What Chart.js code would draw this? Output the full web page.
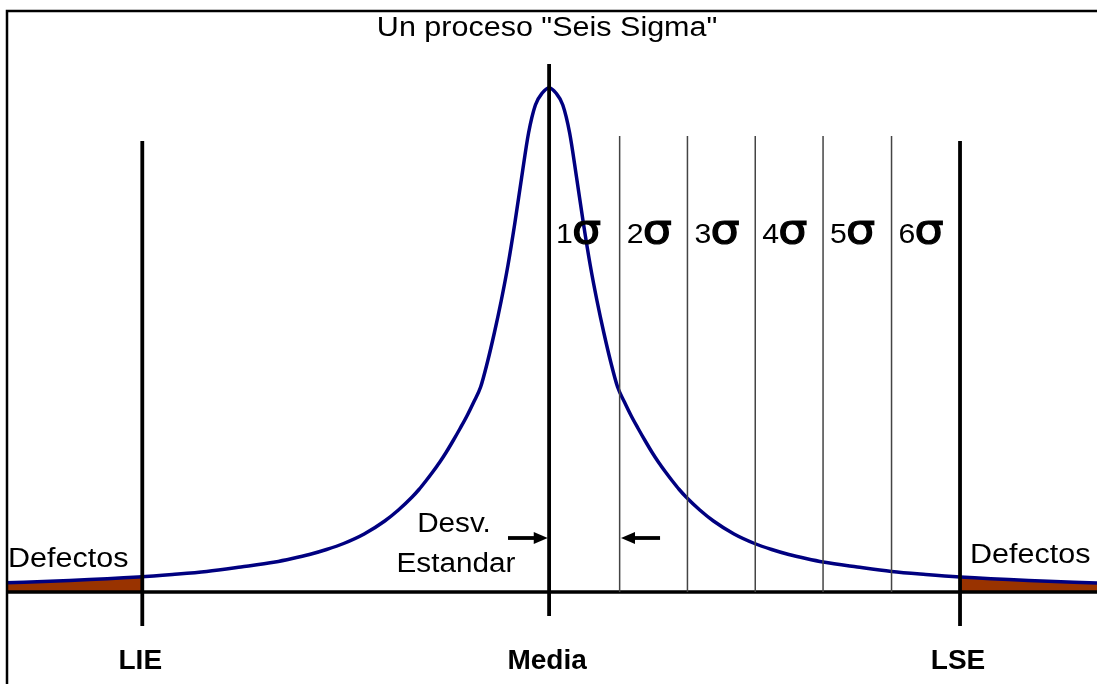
<!DOCTYPE html>
<html>
<head>
<meta charset="utf-8">
<script src="https://cdn.jsdelivr.net/npm/chart.js@4.4.1/dist/chart.umd.min.js"></script>
<style>
  body { margin: 0; background: #fff; }
  #wrap { width: 1097px; height: 684px; }
</style>
</head>
<body>
<div id="wrap"><canvas id="sigmaChart"></canvas></div>
<script>
// curva: distancia a la media (en sigmas) y altura
const curveX = [0, 0.1, 0.2, 0.3, 0.4, 0.5, 0.6, 0.7, 0.8, 0.9, 1.0, 1.1, 1.2, 1.3, 1.4, 1.5, 1.6, 1.7, 1.8, 1.9, 2.0, 2.2, 2.4, 2.7, 3.0, 3.25, 3.5, 3.75, 4.0, 4.5, 5.0, 5.5, 6.0, 7.0, 8.0];
const curveY = [504, 499, 487, 459, 415, 369, 327, 291, 259, 230, 205, 190, 176, 163.5, 151.5, 140, 129.5, 120, 111, 102.5, 95, 82, 71, 58, 48.5, 42.5, 37.5, 33.5, 30, 25, 20.5, 17.5, 15, 11.5, 9];

// limites y media
const limitX = [-5.94, 0, 6];
const limitLabels = ['LIE', 'Media', 'LSE'];
const limitTop = [451, 528, 451];
const limitBottom = [-34, -24, -34];

// lineas de sigma
const sigmaX = [1.03, 2.02, 3.01, 4.0, 5.0];
const sigmaTop = 456;
const sigmaLabels = ['1', '2', '3', '4', '5', '6'];

// flechas "Desv. Estandar"
const arrowFrom = [-0.6, 1.62];
const arrowTo = [-0.02, 1.05];
const arrowY = 54;

const xMin = -7.93, xMax = 8.0;

// curva completa (simetrica)
const fullCurve = [];
for (let i = curveX.length - 1; i > 0; i--) fullCurve.push({ x: -curveX[i], y: curveY[i] });
for (let i = 0; i < curveX.length; i++) fullCurve.push({ x: curveX[i], y: curveY[i] });

const leftDefects = fullCurve.filter(p => p.x <= -6).concat([{ x: limitX[0], y: 15 }]);
const rightDefects = fullCurve.filter(p => p.x >= limitX[2]);

function vline(xv, y0, y1, w, color) {
  return {
    data: [{ x: xv, y: y0 }, { x: xv, y: y1 }],
    borderColor: color, borderWidth: w, pointRadius: 0, fill: false, order: 0
  };
}

const datasets = [];
limitX.forEach((v, i) => datasets.push(vline(v, limitBottom[i], limitTop[i], 3.8, '#000')));
sigmaX.forEach(v => datasets.push(vline(v, 0, sigmaTop, 1.5, '#444')));
datasets.push({
  data: [{ x: xMin, y: 0 }, { x: xMax, y: 0 }],
  borderColor: '#000', borderWidth: 3.5, pointRadius: 0, fill: false, order: 0
});
datasets.push({
  data: fullCurve, borderColor: '#000080', borderWidth: 3.5, pointRadius: 0,
  cubicInterpolationMode: 'monotone', fill: false, order: 1
});
[leftDefects, rightDefects].forEach(d => datasets.push({
  data: d, borderWidth: 0, borderColor: 'rgba(0,0,0,0)', pointRadius: 0,
  backgroundColor: '#993300', fill: 'origin', cubicInterpolationMode: 'monotone', order: 2
}));

function wideText(ctx, str, px, py, font, align, sx, stroke) {
  ctx.save();
  ctx.font = font;
  ctx.textAlign = align;
  ctx.textBaseline = 'alphabetic';
  ctx.translate(px, py);
  ctx.scale(sx, 1);
  ctx.fillText(str, 0, 0);
  if (stroke) {
    ctx.lineWidth = stroke;
    ctx.strokeText(str, 0, 0);
  }
  ctx.restore();
}

function arrow(ctx, x0, x1, yy) {
  const dir = Math.sign(x1 - x0);
  ctx.beginPath();
  ctx.moveTo(x0, yy);
  ctx.lineTo(x1 - dir * 12, yy);
  ctx.lineWidth = 3.8;
  ctx.stroke();
  ctx.beginPath();
  ctx.moveTo(x1, yy);
  ctx.lineTo(x1 - dir * 14, yy - 6);
  ctx.lineTo(x1 - dir * 14, yy + 6);
  ctx.closePath();
  ctx.fill();
}

const textPlugin = {
  id: 'sigmaText',
  afterDraw(chart) {
    const { ctx, scales: { x, y } } = chart;
    ctx.save();
    ctx.fillStyle = '#000';
    ctx.strokeStyle = '#000';
    // marco
    ctx.lineWidth = 2.5;
    ctx.beginPath();
    ctx.moveTo(7, 684); ctx.lineTo(7, 11); ctx.lineTo(1097, 11);
    ctx.stroke();

    const reg = '27px "Liberation Sans", Arial, sans-serif';
    const bold = 'bold 28px "Liberation Sans", Arial, sans-serif';
    const cx = x.getPixelForValue(0);
    wideText(ctx, 'Un proceso "Seis Sigma"', cx - 2, 36, reg, 'center', 1.13);
    wideText(ctx, 'Defectos', 8, 567, reg, 'left', 1.13);
    wideText(ctx, 'Defectos', 970, 563, reg, 'left', 1.13);
    wideText(ctx, 'Desv.', 454, 532, reg, 'center', 1.1);
    wideText(ctx, 'Estandar', 456, 572, reg, 'center', 1.1);

    limitX.forEach((v, i) => {
      wideText(ctx, limitLabels[i], x.getPixelForValue(v) - 2, 669, bold, 'center', 1);
    });

    // etiquetas 1σ ... 6σ
    const lines = [0].concat(sigmaX);
    sigmaLabels.forEach((s, i) => {
      const lx = x.getPixelForValue(lines[i]) + 7;
      wideText(ctx, s, lx, 243, '28px "Liberation Sans", Arial, sans-serif', 'left', 1.08);
      wideText(ctx, 'σ', lx + 16, 243, '41px "DejaVu Sans", sans-serif', 'left', 1.12, 1.2);
    });

    const ay = y.getPixelForValue(arrowY);
    arrowFrom.forEach((a, i) => arrow(ctx, x.getPixelForValue(a), x.getPixelForValue(arrowTo[i]), ay));
    ctx.restore();
  }
};

new Chart(document.getElementById('sigmaChart'), {
  type: 'line',
  data: { datasets },
  options: {
    responsive: true,
    maintainAspectRatio: false,
    animation: false,
    layout: { padding: { left: 6, right: 0, top: 11, bottom: 43 } },
    scales: {
      x: { type: 'linear', min: xMin, max: xMax, display: false },
      y: { min: -49, max: 581, display: false }
    },
    plugins: { legend: { display: false }, tooltip: { enabled: false } }
  },
  plugins: [textPlugin]
});
</script>
</body>
</html>
